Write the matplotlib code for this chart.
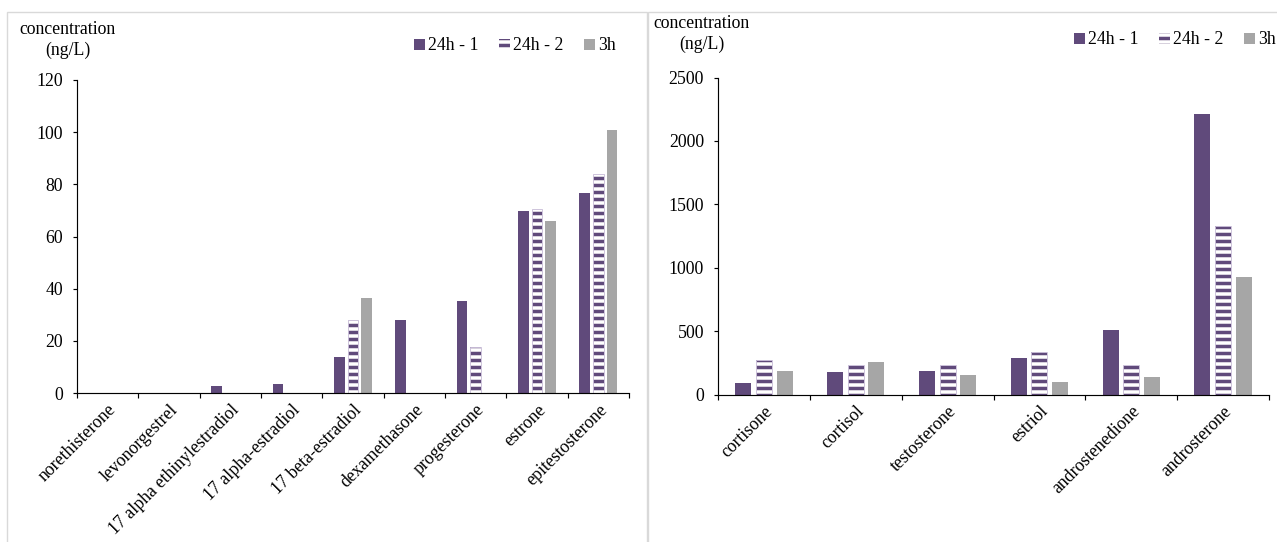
import numpy as np
import matplotlib
matplotlib.use('Agg')
import matplotlib.pyplot as plt
from matplotlib.patches import Rectangle

plt.rcParams['font.family'] = ['Liberation Serif', 'DejaVu Serif']
plt.rcParams['hatch.linewidth'] = 3.0

# data
cats_left = ['norethisterone', 'levonorgestrel', '17 alpha ethinylestradiol', '17 alpha-estradiol',
             '17 beta-estradiol', 'dexamethasone', 'progesterone', 'estrone', 'epitestosterone']
h24_1_left = [0, 0, 2.6, 3.3, 13.8, 28.1, 35.2, 69.9, 76.5]
h24_2_left = [0, 0, 0, 0, 27.9, 0, 17.5, 70.7, 84.1]
h3_left = [0, 0, 0, 0, 36.3, 0, 0, 65.8, 101]

cats_right = ['cortisone', 'cortisol', 'testosterone', 'estriol', 'androstenedione', 'androsterone']
h24_1_right = [87, 174, 182, 287, 508, 2210]
h24_2_right = [269, 232, 229, 336, 229, 1330]
h3_right = [184, 255, 150, 97, 139, 924]

series_names = ['24h - 1', '24h - 2', '3h']
yticks_left = [0, 20, 40, 60, 80, 100, 120]
yticks_right = [0, 500, 1000, 1500, 2000, 2500]

purple = '#604a7b'
grey = '#a6a6a6'
lavender = '#ccc1da'
fs = 15.2

W, H, DPI = 1277, 542, 84
fig = plt.figure(figsize=(W / DPI, H / DPI), dpi=DPI)

# panel frames
fig.add_artist(Rectangle((7 / W, -0.05), (647 - 7) / W, 1.05 - 12 / H, transform=fig.transFigure,
                         fill=False, edgecolor='#d9d9d9', lw=1.2))
fig.add_artist(Rectangle((648 / W, -0.05), 0.6, 1.05 - 12 / H, transform=fig.transFigure,
                         fill=False, edgecolor='#d9d9d9', lw=1.2))


def plot_panel(rect, cats, s1, s2, s3, yticks, leg_xy, lab_xy):
    ax = fig.add_axes(rect)
    x = np.arange(len(cats))
    w = 0.175
    off = 0.225
    b1 = ax.bar(x - off, s1, w, color=purple, linewidth=0)
    b2 = ax.bar(x, s2, w, color='white', edgecolor=purple, hatch='--', linewidth=0)
    ax.bar(x, s2, w, fill=False, edgecolor=lavender, linewidth=0.8)
    b3 = ax.bar(x + off, s3, w, color=grey, linewidth=0)

    ax.set_xlim(-0.5, len(cats) - 0.5)
    ax.set_ylim(yticks[0], yticks[-1])
    ax.set_yticks(yticks)
    ax.set_yticklabels([str(t) for t in yticks], fontsize=fs)
    ax.tick_params(axis='y', length=4 * 72 / DPI, width=1, pad=10 * 72 / DPI, direction='out')

    ax.set_xticks(np.arange(len(cats) + 1) - 0.5)
    ax.set_xticklabels([])
    ax.tick_params(axis='x', which='major', length=5 * 72 / DPI, width=1, direction='out')
    ax.set_xticks(x, minor=True)
    ax.set_xticklabels(cats, minor=True, rotation=45, ha='right', va='top',
                       rotation_mode='anchor', fontsize=fs)
    ax.tick_params(axis='x', which='minor', length=0, pad=7)

    for s in ['top', 'right']:
        ax.spines[s].set_visible(False)
    for s in ['left', 'bottom']:
        ax.spines[s].set_linewidth(1)
        ax.spines[s].set_color('black')

    ax.legend([b1, b2, b3], series_names, loc='center left', bbox_to_anchor=leg_xy,
              bbox_transform=fig.transFigure, ncol=3, frameon=False, fontsize=fs,
              handlelength=0.6, handleheight=0.6, handletextpad=0.2, columnspacing=1.15,
              borderpad=0, borderaxespad=0)

    fig.text(lab_xy[0], lab_xy[1], 'concentration', fontsize=fs, va='center', ha='left')
    fig.text(lab_xy[0] + 26 / W, lab_xy[1] - 20 / H, '(ng/L)', fontsize=fs, va='center', ha='left')
    return ax


plot_panel([77 / W, 149 / H, 552 / W, 313 / H], cats_left, h24_1_left, h24_2_left, h3_left,
           yticks_left, (414 / W, 1 - 46 / H), (19 / W, 1 - 30 / H))
plot_panel([718 / W, 147.5 / H, 551 / W, 317 / H], cats_right, h24_1_right, h24_2_right, h3_right,
           yticks_right, (1074 / W, 1 - 40 / H), (653 / W, 1 - 24 / H))

fig.savefig('out.png', dpi=DPI)
